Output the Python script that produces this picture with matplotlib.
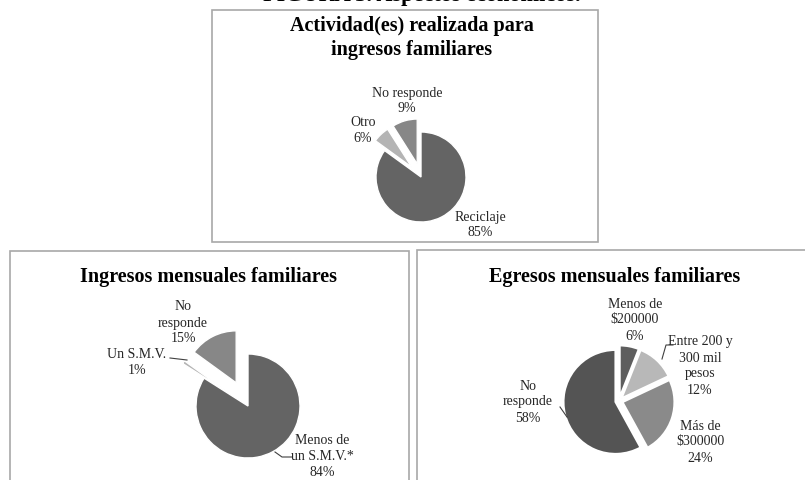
import matplotlib
matplotlib.use('Agg')
import matplotlib.pyplot as plt
from matplotlib.patches import Rectangle

plt.rcParams['font.family'] = ['Liberation Serif', 'DejaVu Serif']

W, H = 805, 480

# data
act_labels = ['Reciclaje\n85%', 'Otro\n6%', 'No responde\n9%']
act_values = [85, 6, 9]

ing_labels = ['Menos de\nun S.M.V.*\n84%', 'Un S.M.V.\n1%', 'No\nresponde\n15%']
ing_values = [84, 1, 15]

egr_labels = ['Menos de\n\\$200000\n6%', 'Entre 200 y\n300 mil\npesos\n12%',
              'Más de\n\\$300000\n24%', 'No\nresponde\n58%']
egr_values = [6, 12, 24, 58]

fig = plt.figure(figsize=(W / 100, H / 100), dpi=100)
ax = fig.add_axes([0, 0, 1, 1])


def py(y):
    # pixel row (from top) -> data y
    return H - y


def panel(x0, y0, x1, y1):
    ax.add_patch(Rectangle((x0, py(y1)), x1 - x0, y1 - y0, fill=False,
                           edgecolor='#a8a8a8', linewidth=1.2, clip_on=False))


def draw_pie(values, colors, explode, cx, cy, r, lw=1.0):
    ax.pie(values, colors=colors, explode=[e * r for e in explode],
           startangle=90, counterclock=False, center=(cx, py(cy)), radius=r,
           wedgeprops=dict(edgecolor='white', linewidth=lw))


def labels(texts, positions):
    for s, (x, y) in zip(texts, positions):
        ax.text(x, py(y), s, ha='center', va='center', fontsize=10,
                color='#262626', linespacing=1.3)


def leader(xs, ys):
    ax.plot(xs, [py(v) for v in ys], color='#404040', linewidth=0.8)


def title(s, x, y, size=14.5):
    ax.text(x, py(y), s, ha='center', va='center', fontsize=size,
            fontweight='bold', color='black', linespacing=1.26)


# figure title, cut by the top edge
ax.text(422, py(0.8), 'FIGURA 3. Aspectos económicos.', ha='center', va='baseline',
        fontsize=16, fontweight='bold', color='black', clip_on=False)

# top panel
panel(212, 10, 598, 242)
title('Actividad(es) realizada para\ningresos familiares', 412, 38)
draw_pie(act_values, ['#646464', '#b4b4b4', '#878787'], [0, 0.3, 0.3], 421, 177, 45)
labels(act_labels, [(480, 225), (363, 130), (407, 101)])

# bottom left panel
panel(10, 251, 409, 485)
title('Ingresos mensuales familiares', 208, 277)
draw_pie(ing_values, ['#646464', '#b4b4b4', '#878787'], [0, 0.5, 0.5], 248, 406, 52)
labels(ing_labels, [(322, 457), (137, 362), (183, 323)])
leader([170, 187], [358, 360])
leader([275, 282, 292], [452, 457, 457])

# bottom right panel
panel(417, 250, 812, 485)
title('Egresos mensuales familiares', 615, 277)
draw_pie(egr_values, ['#5e5e5e', '#b8b8b8', '#8a8a8a', '#545454'],
         [0.07, 0.07, 0.07, 0.07], 619, 401, 52, lw=1.5)
labels(egr_labels, [(635, 320), (700, 366), (700, 442), (528, 402)])
leader([662, 666, 673], [359, 345, 345])
leader([560, 567], [407, 417])

ax.set_xlim(0, W)
ax.set_ylim(0, H)
ax.set_aspect('auto')
ax.axis('off')

fig.savefig('out.png', dpi=100, facecolor='white')
